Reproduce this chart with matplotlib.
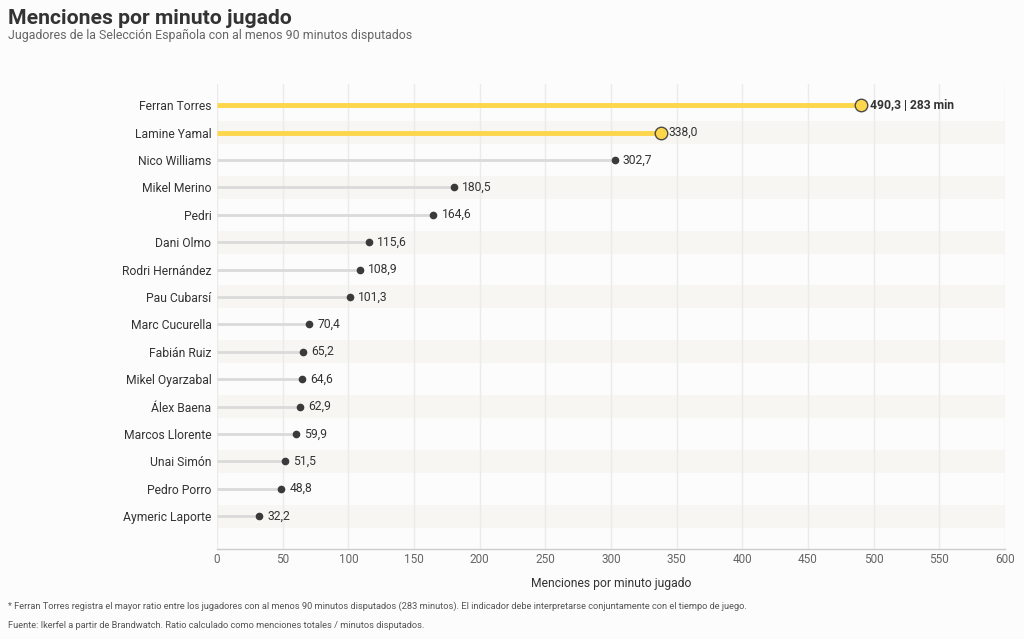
import matplotlib
matplotlib.use("Agg")
import matplotlib.pyplot as plt
from matplotlib.patches import Rectangle

plt.rcParams['font.family'] = ['Roboto', 'DejaVu Sans']

players = ["Ferran Torres", "Lamine Yamal", "Nico Williams", "Mikel Merino", "Pedri",
           "Dani Olmo", "Rodri Hernández", "Pau Cubarsí", "Marc Cucurella", "Fabián Ruiz",
           "Mikel Oyarzabal", "Álex Baena", "Marcos Llorente", "Unai Simón", "Pedro Porro",
           "Aymeric Laporte"]
values = [490.3, 338.0, 302.7, 180.5, 164.6, 115.6, 108.9, 101.3, 70.4, 65.2,
          64.6, 62.9, 59.9, 51.5, 48.8, 32.2]
highlight = [True, True] + [False] * 14
top_minutes = 283
xticks = [0, 50, 100, 150, 200, 250, 300, 350, 400, 450, 500, 550, 600]

BG = "#fcfcfc"
fig = plt.figure(figsize=(10.24, 6.39), dpi=100, facecolor=BG)
ax = fig.add_axes([217/1024, 1 - 549/639, (1005-217)/1024, (549-84)/639])
ax.set_facecolor(BG)

ax.set_xlim(0, 600)
ax.set_ylim(16.2, -0.77)

# alternating bands
for i in range(len(players)):
    if i % 2 == 1:
        ax.add_patch(Rectangle((0, i - 0.42), 600, 0.84, facecolor="#f7f6f2",
                               edgecolor="none", zorder=0))

for x in xticks:
    ax.axvline(x, color="#ebebeb", lw=1, zorder=0.5)

FS = 8.7
for i, (p, v, h) in enumerate(zip(players, values, highlight)):
    lab = f"{v:.1f}".replace(".", ",")
    if h:
        ax.plot([0, v], [i, i], color="#fdd64b", lw=3.5, solid_capstyle="butt", zorder=2)
        ax.plot(v, i, 'o', ms=9, mfc="#fdd64b", mec="#4a4a4a", mew=1, zorder=3)
        if i == 0:
            ax.annotate(lab + f" | {top_minutes} min", (v, i), xytext=(6.5, 0),
                        textcoords="offset points", va="center", ha="left",
                        fontsize=FS, fontweight="bold", color="#333333", zorder=4)
        else:
            ax.annotate(lab, (v, i), xytext=(5.5, 0), textcoords="offset points",
                        va="center", ha="left", fontsize=FS, color="#333333", zorder=4)
    else:
        ax.plot([0, v], [i, i], color="#dadada", lw=2, solid_capstyle="butt", zorder=2)
        ax.plot(v, i, 'o', ms=4.5, mfc="#3a3a3a", mec="#3a3a3a", zorder=3)
        ax.annotate(lab, (v, i), xytext=(6, 0), textcoords="offset points",
                    va="center", ha="left", fontsize=FS, color="#333333", zorder=4)

ax.set_yticks(range(len(players)))
ax.set_yticklabels(players, fontsize=FS, color="#333333")
ax.set_xticks(xticks)
ax.set_xticklabels([str(x) for x in xticks], fontsize=8.5, color="#666666")
ax.tick_params(axis="y", length=0, pad=4)
ax.tick_params(axis="x", length=0, pad=3)
for s in ["top", "right", "left"]:
    ax.spines[s].set_visible(False)
ax.spines["bottom"].set_color("#cccccc")
ax.spines["bottom"].set_linewidth(1)
ax.set_xlabel("Menciones por minuto jugado", fontsize=FS, color="#333333", labelpad=8)

fig.text(8/1024, 1 - 18/639, "Menciones por minuto jugado", fontsize=15.2,
         fontweight="bold", color="#333333", va="center", ha="left")
fig.text(8/1024, 1 - 35/639,
         "Jugadores de la Selección Española con al menos 90 minutos disputados",
         fontsize=8.9, color="#666666", va="center", ha="left")
fig.text(8/1024, 1 - 606/639,
         "* Ferran Torres registra el mayor ratio entre los jugadores con al menos 90 minutos disputados (283 minutos). El indicador debe interpretarse conjuntamente con el tiempo de juego.",
         fontsize=6.7, color="#555555", va="center", ha="left")
fig.text(8/1024, 1 - 626/639,
         "Fuente: Ikerfel a partir de Brandwatch. Ratio calculado como menciones totales / minutos disputados.",
         fontsize=6.7, color="#555555", va="center", ha="left")

fig.savefig("out.png", dpi=100, facecolor=BG)
